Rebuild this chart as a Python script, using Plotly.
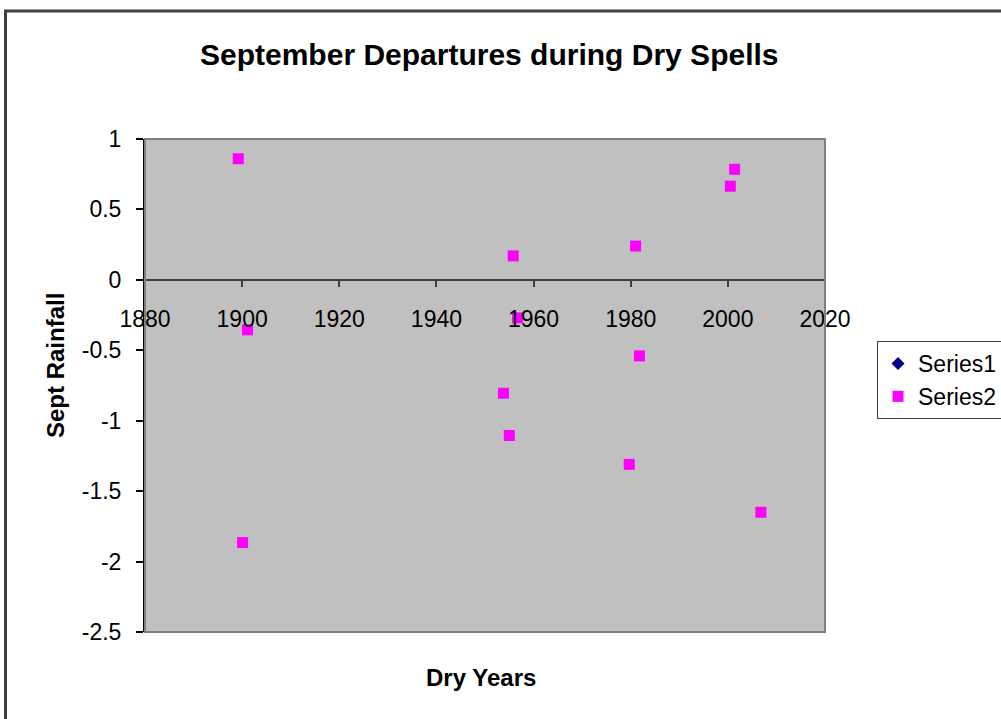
import plotly.graph_objects as go

# Data
series2_years = [1899.2, 1901.1, 1955.8, 1956.7, 1981.0, 2000.5, 2001.4, 1981.8,
                 1953.8, 1955.0, 1979.7, 2006.8, 1900.1]
series2_vals = [0.86, -0.355, 0.17, -0.27, 0.24, 0.665, 0.785, -0.54,
                -0.805, -1.105, -1.31, -1.65, -1.865]
series1_years = []
series1_vals = []

y_ticks = [1, 0.5, 0, -0.5, -1, -1.5, -2, -2.5]
y_tick_labels = ["1", "0.5", "0", "-0.5", "-1", "-1.5", "-2", "-2.5"]
x_ticks = [1880, 1900, 1920, 1940, 1960, 1980, 2000, 2020]
x_tick_labels = [str(v) for v in x_ticks]

FONT = "Arial, Liberation Sans, sans-serif"

# Figure is a bit wider than the 1001px window so the legend box runs off the
# right edge, as in the reference; overflow is hidden by the post script.
W, H = 1030, 719
L, R, T, B = 145, 825, 139, 632  # plot area pixel edges


def px_x(p):
    return (p - L) / (R - L)


def px_y(p):
    return (B - p) / (B - T)


fig = go.Figure()
fig.add_trace(go.Scatter(
    x=series1_years if series1_years else [None], y=series1_vals if series1_vals else [None],
    mode="markers", name="Series1",
    marker=dict(symbol="diamond", color="#000080", size=10)))
fig.add_trace(go.Scatter(
    x=series2_years, y=series2_vals, mode="markers", name="Series2",
    marker=dict(symbol="square", color="#FF00FF", size=11, line=dict(width=0))))

fig.update_layout(
    width=W, height=H,
    margin=dict(l=L, r=W - R, t=T, b=H - B, pad=0),
    paper_bgcolor="white",
    plot_bgcolor="#C0C0C0",
    font=dict(family=FONT, color="black", size=23),
    showlegend=True,
    legend=dict(
        x=px_x(877), y=px_y(341), xanchor="left", yanchor="top",
        bgcolor="white", bordercolor="#404040", borderwidth=1,
        font=dict(family=FONT, size=23, color="black"),
        tracegroupgap=0, itemwidth=30,
    ),
    xaxis=dict(
        range=[1880, 2020], tickmode="array", tickvals=x_ticks, ticktext=x_tick_labels,
        anchor="free", position=px_y(280),
        showline=True, linecolor="#404040", linewidth=2,
        ticks="outside", ticklen=6, tickwidth=2, tickcolor="#404040",
        ticklabelstandoff=12,
        showgrid=False, zeroline=False,
        tickfont=dict(family=FONT, size=23, color="black"),
    ),
    yaxis=dict(
        range=[-2.5, 1], tickmode="array", tickvals=y_ticks, ticktext=y_tick_labels,
        showline=True, linecolor="black", linewidth=2,
        ticks="outside", ticklen=7, tickwidth=2, tickcolor="black",
        ticklabelstandoff=10,
        showgrid=False, zeroline=False,
        tickfont=dict(family=FONT, size=23, color="black"),
    ),
    shapes=[
        # plot area border (top, right, bottom)
        dict(type="rect", xref="paper", yref="paper", x0=0, x1=1, y0=0, y1=1,
             line=dict(color="#808080", width=2), layer="above"),
        # outer chart frame
        dict(type="rect", xref="paper", yref="paper",
             x0=px_x(5.5), x1=px_x(1025), y0=px_y(725), y1=px_y(11),
             line=dict(color="#404040", width=3), layer="above"),
    ],
    annotations=[
        dict(text="<b>September Departures during Dry Spells</b>", xref="paper", yref="paper",
             x=px_x(489), y=px_y(54), xanchor="center", yanchor="middle", showarrow=False,
             font=dict(family=FONT, size=30, color="black")),
        dict(text="<b>Dry Years</b>", xref="paper", yref="paper",
             x=px_x(481), y=px_y(677), xanchor="center", yanchor="middle", showarrow=False,
             font=dict(family=FONT, size=24, color="black")),
        dict(text="<b>Sept Rainfall</b>", xref="paper", yref="paper", textangle=-90,
             x=px_x(55), y=px_y(366), xanchor="center", yanchor="middle", showarrow=False,
             font=dict(family=FONT, size=24, color="black")),
    ],
)

fig.write_html(
    "out.html",
    config={"displayModeBar": False},
    post_script=(
        "document.body.style.margin='0';"
        "document.body.style.overflow='hidden';"
        "document.documentElement.style.overflow='hidden';"
    ),
)
